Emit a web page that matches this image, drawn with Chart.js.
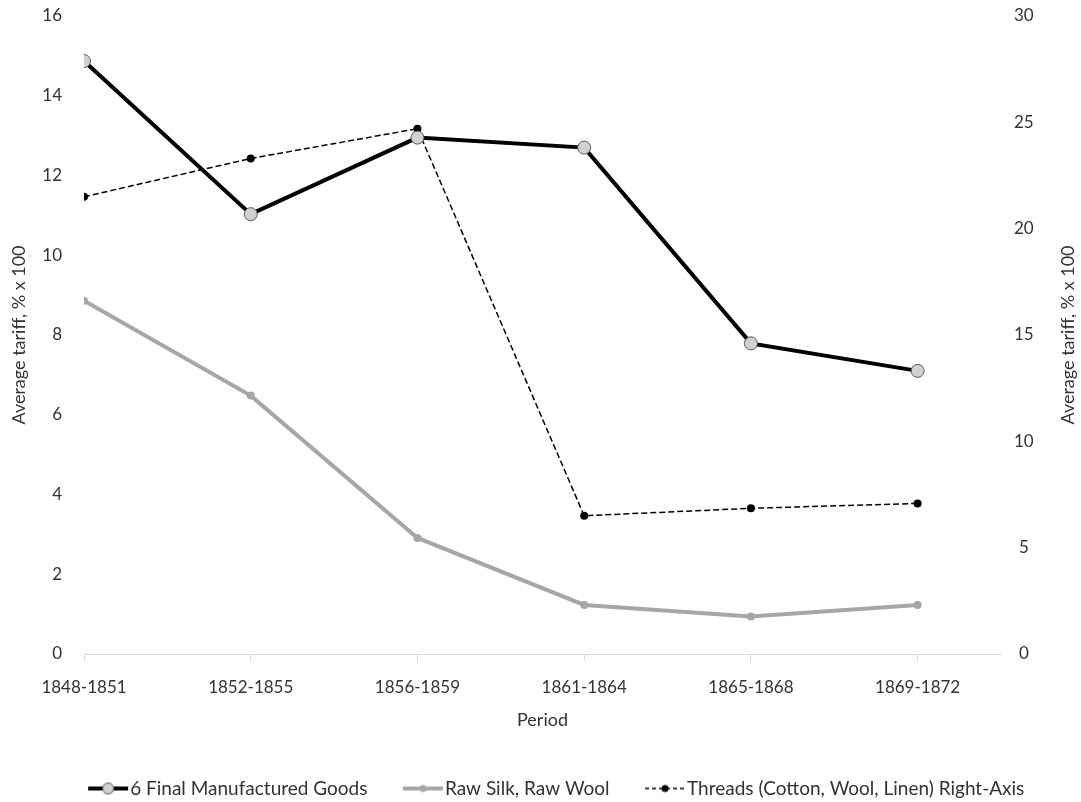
<!DOCTYPE html>
<html lang="en">
<head>
    <meta charset="UTF-8">
    <script src="https://cdn.jsdelivr.net/npm/chart.js"></script>
    <title>Average tariff by period</title>
    <style>
        html, body { margin: 0; padding: 0; background: #fff; }
        #wrap { width: 1081px; height: 802px; }
    </style>
</head>
<body>
    <div id="wrap"><canvas id="myChart"></canvas></div>

    <script>
        const periods = ["1848-1851", "1852-1855", "1856-1859", "1861-1864", "1865-1868", "1869-1872"];
        const finalGoods = [14.87, 11.03, 12.95, 12.70, 7.79, 7.10];
        const rawSilkWool = [8.86, 6.48, 2.91, 1.23, 0.94, 1.23];
        const threads = [21.5, 23.3, 24.7, 6.5, 6.85, 7.08];   // right axis

        const leftTicks = [0, 2, 4, 6, 8, 10, 12, 14, 16];
        const rightTicks = [0, 5, 10, 15, 20, 25, 30];
        const axisTitle = "Average tariff, % x 100";

        const textColor = "#333333";
        const fontFamily = "Lato, 'Open Sans', sans-serif";

        function toPoints(values) {
            return values.map(function(v, i) { return { x: i, y: v }; });
        }

        // legend swatch: line with marker, drawn in the right part of the image so it sits next to the text
        function swatch(color, width, dash, radius, fill, stroke) {
            const c = document.createElement("canvas");
            c.width = 83; c.height = 16;
            const g = c.getContext("2d");
            const x0 = 83 - 42, x1 = 83 - 2, y = 8;
            g.strokeStyle = color;
            g.lineWidth = width;
            g.setLineDash(dash);
            g.beginPath();
            g.moveTo(x0, y); g.lineTo(x1, y);
            g.stroke();
            g.setLineDash([]);
            g.beginPath();
            g.arc((x0 + x1) / 2, y, radius, 0, Math.PI * 2);
            g.fillStyle = fill;
            g.fill();
            if (stroke) { g.lineWidth = 1; g.strokeStyle = stroke; g.stroke(); }
            return c;
        }

        const swatches = [
            swatch("#000", 4, [], 5.5, "#d0d0d0", "#595959"),
            swatch("#a6a6a6", 4, [], 3.5, "#a6a6a6", null),
            swatch("#000", 1.5, [4, 3], 3.5, "#000", null)
        ];

        // right axis title reads bottom-to-top like the left one
        const rightTitle = {
            id: "rightTitle",
            afterDraw: function(chart) {
                const a = chart.chartArea;
                const ctx = chart.ctx;
                ctx.save();
                ctx.translate(1068, (a.top + a.bottom) / 2);
                ctx.rotate(-Math.PI / 2);
                ctx.fillStyle = textColor;
                ctx.font = "18px " + fontFamily;
                ctx.textAlign = "center";
                ctx.textBaseline = "middle";
                ctx.fillText(axisTitle, 0, 0);
                ctx.restore();
            }
        };

        function noVertPadding(s) {
            s.paddingTop = 0;
            s.paddingBottom = 0;
        }

        new Chart("myChart", {
            type: "line",
            data: {
                datasets: [{
                    label: "6 Final Manufactured Goods",
                    data: toPoints(finalGoods),
                    borderColor: "#000",
                    borderWidth: 4,
                    pointRadius: 6.5,
                    pointBackgroundColor: "#d0d0d0",
                    pointBorderColor: "#595959",
                    pointBorderWidth: 1,
                    yAxisID: "y"
                }, {
                    label: "Raw Silk, Raw Wool",
                    data: toPoints(rawSilkWool),
                    borderColor: "#a6a6a6",
                    borderWidth: 4,
                    pointRadius: 4,
                    pointBackgroundColor: "#a6a6a6",
                    pointBorderColor: "#a6a6a6",
                    pointBorderWidth: 0,
                    yAxisID: "y"
                }, {
                    label: "Threads (Cotton, Wool, Linen) Right-Axis",
                    data: toPoints(threads),
                    borderColor: "#000",
                    borderWidth: 1.5,
                    borderDash: [6, 3],
                    pointRadius: 4,
                    pointBackgroundColor: "#000",
                    pointBorderColor: "#000",
                    pointBorderWidth: 0,
                    yAxisID: "y1"
                }]
            },
            options: {
                responsive: true,
                maintainAspectRatio: false,
                animation: false,
                layout: { padding: { top: 16, right: 0, left: 0, bottom: -6 } },
                scales: {
                    x: {
                        type: "linear",
                        min: 0,
                        max: 5.5,
                        afterFit: function(s) { s.height = 121; s.paddingLeft = 0; s.paddingRight = 0; },
                        border: { display: true, color: "#d9d9d9", width: 1 },
                        grid: { drawOnChartArea: false, drawTicks: true, tickLength: 7, color: "#d9d9d9" },
                        ticks: {
                            stepSize: 1,
                            includeBounds: false,
                            autoSkip: false,
                            maxRotation: 0,
                            padding: 16,
                            color: textColor,
                            font: { family: fontFamily, size: 17 },
                            callback: function(v) { return periods[v] !== undefined ? periods[v] : ""; }
                        },
                        title: {
                            display: true,
                            text: "Period",
                            color: textColor,
                            font: { family: fontFamily, size: 18 },
                            padding: { top: 0, bottom: 44 }
                        }
                    },
                    y: {
                        position: "left",
                        min: 0,
                        max: 16,
                        afterFit: function(s) { s.width = 84; noVertPadding(s); },
                        afterBuildTicks: function(s) { s.ticks = leftTicks.map(function(v) { return { value: v }; }); },
                        border: { display: false },
                        grid: { display: false, drawTicks: false },
                        ticks: {
                            padding: 22,
                            color: textColor,
                            font: { family: fontFamily, size: 17 }
                        },
                        title: {
                            display: true,
                            text: axisTitle,
                            color: textColor,
                            font: { family: fontFamily, size: 18 },
                            padding: { top: 8, bottom: 0 }
                        }
                    },
                    y1: {
                        position: "right",
                        min: 0,
                        max: 30,
                        afterFit: function(s) { s.width = 80; noVertPadding(s); },
                        afterBuildTicks: function(s) { s.ticks = rightTicks.map(function(v) { return { value: v }; }); },
                        border: { display: false },
                        grid: { display: false, drawTicks: false },
                        ticks: {
                            padding: 13,
                            crossAlign: "center",
                            color: textColor,
                            font: { family: fontFamily, size: 17 }
                        }
                    }
                },
                plugins: {
                    tooltip: { enabled: false },
                    legend: {
                        position: "bottom",
                        labels: {
                            usePointStyle: true,
                            pointStyleWidth: 64,
                            padding: 4,
                            color: textColor,
                            font: { family: fontFamily, size: 19 },
                            generateLabels: function(chart) {
                                return chart.data.datasets.map(function(ds, i) {
                                    return {
                                        text: ds.label,
                                        pointStyle: swatches[i],
                                        fillStyle: "transparent",
                                        strokeStyle: "transparent",
                                        lineWidth: 0,
                                        fontColor: textColor,
                                        datasetIndex: i
                                    };
                                });
                            }
                        }
                    }
                }
            },
            plugins: [rightTitle]
        });
    </script>
</body>
</html>
